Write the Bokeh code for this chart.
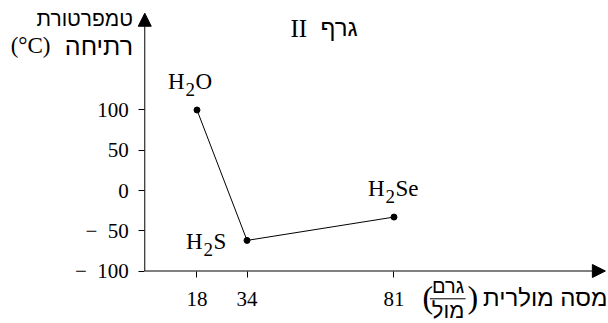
from bokeh.plotting import figure
from bokeh.models import Label, Arrow, NormalHead, FixedTicker, Range1d
from bokeh.embed import file_html
from bokeh.resources import INLINE

# Boiling points of group-16 hydrides
formula_parts = [("H", "2", "O"), ("H", "2", "S"), ("H", "2", "Se")]
molar_mass = [18, 34, 81]          # g/mol
boiling_point = [100, -62, -33]    # deg C
y_ticks = [-100, -50, 0, 50, 100]
x_ticks = [18, 34, 81]

SERIF = "Liberation Serif"
SANS = "Liberation Sans"

# the frame fills the whole canvas; axes sit at fixed data locations inside it
p = figure(width=608, height=323, output_backend="svg", toolbar_location=None,
           x_range=Range1d(-44.84, 149.6), y_range=Range1d(-165.2, 236.0),
           min_border=0, min_border_left=0, min_border_right=0,
           min_border_top=0, min_border_bottom=0)
p.outline_line_color = None
p.grid.visible = False
p.background_fill_color = "white"
p.border_fill_color = "white"

X0, Y0 = 1.3, -100   # where the two axes cross
p.xaxis.fixed_location = Y0
p.yaxis.fixed_location = X0

for ax, ticks in ((p.xaxis, x_ticks), (p.yaxis, y_ticks)):
    ax.ticker = FixedTicker(ticks=ticks)
    ax.axis_line_color = None
    ax.major_tick_in = 0
    ax.major_tick_out = 6
    ax.major_tick_line_color = "black"
    ax.major_tick_line_width = 1
    ax.minor_tick_line_color = None
    ax.major_label_text_font = SERIF
    ax.major_label_text_font_size = "21px"
    ax.major_label_text_color = "black"
p.yaxis.major_label_standoff = 10
p.xaxis.major_label_standoff = 15
p.yaxis.major_label_overrides = {t: ("\u2212\u2002" + str(-t)) for t in y_ticks if t < 0}

# axis lines with arrow heads
head = dict(size=13, fill_color="black", line_color="black")
p.add_layout(Arrow(end=NormalHead(**head), x_start=X0, y_start=Y0, x_end=X0, y_end=220.2,
                   line_color="black", line_width=1))
p.add_layout(Arrow(end=NormalHead(**head), x_start=X0, y_start=Y0, x_end=148.6, y_end=Y0,
                   line_color="black", line_width=1))

# data
p.line(molar_mass, boiling_point, line_color="black", line_width=1)
p.scatter(molar_mass, boiling_point, size=6, color="black")

# formula labels next to each point (H, subscript 2, element)
label_offsets = [(-29, 28), (-61, -1), (-26, 29)]
for (a, sub, b), mx, bp, (dx, dy) in zip(formula_parts, molar_mass, boiling_point, label_offsets):
    p.add_layout(Label(x=mx, y=bp, x_offset=dx, y_offset=dy, text=a, text_color="black",
                       text_font=SERIF, text_font_size="23px", text_baseline="alphabetic"))
    p.add_layout(Label(x=mx, y=bp, x_offset=dx + 17.5, y_offset=dy - 8, text=sub, text_color="black",
                       text_font=SERIF, text_font_size="19px", text_baseline="alphabetic"))
    p.add_layout(Label(x=mx, y=bp, x_offset=dx + 27.5, y_offset=dy, text=b, text_color="black",
                       text_font=SERIF, text_font_size="23px", text_baseline="alphabetic"))


def txt(x, y, s, font=SANS, size="24px", align="left"):
    p.add_layout(Label(x=x, y=y, text=s, text_font=font, text_font_size=size,
                       text_align=align, text_baseline="alphabetic", text_color="black"))


# y axis title: boiling temperature (deg C)
txt(-2.47, 213.7, "טמפרטורת", size="21px", align="right")
txt(-2.47, 180.1, "רתיחה", size="25px", align="right")
txt(-41.6, 180.1, "(°C)", font=SERIF, size="23px")

# chart title
txt(47.9, 200.9, "II", font=SERIF, size="25px")
txt(57.5, 202.9, "גרף", size="24px")

# x axis title: molar mass (g/mol)
txt(90.1, -132.9, "(", font=SERIF, size="32px")
txt(98.3, -118.0, "גרם", size="20px", align="center")
p.add_layout(Arrow(end=None, x_start=92.5, y_start=-134.5, x_end=103.9, y_end=-134.5,
                   line_color="black", line_width=1))
txt(98.3, -149.1, "מול", size="22px", align="center")
txt(104.5, -132.9, ")", font=SERIF, size="32px")
txt(149.3, -132.5, "מסה מולרית", size="24px", align="right")

open("out.html", "w").write(file_html(p, INLINE))
